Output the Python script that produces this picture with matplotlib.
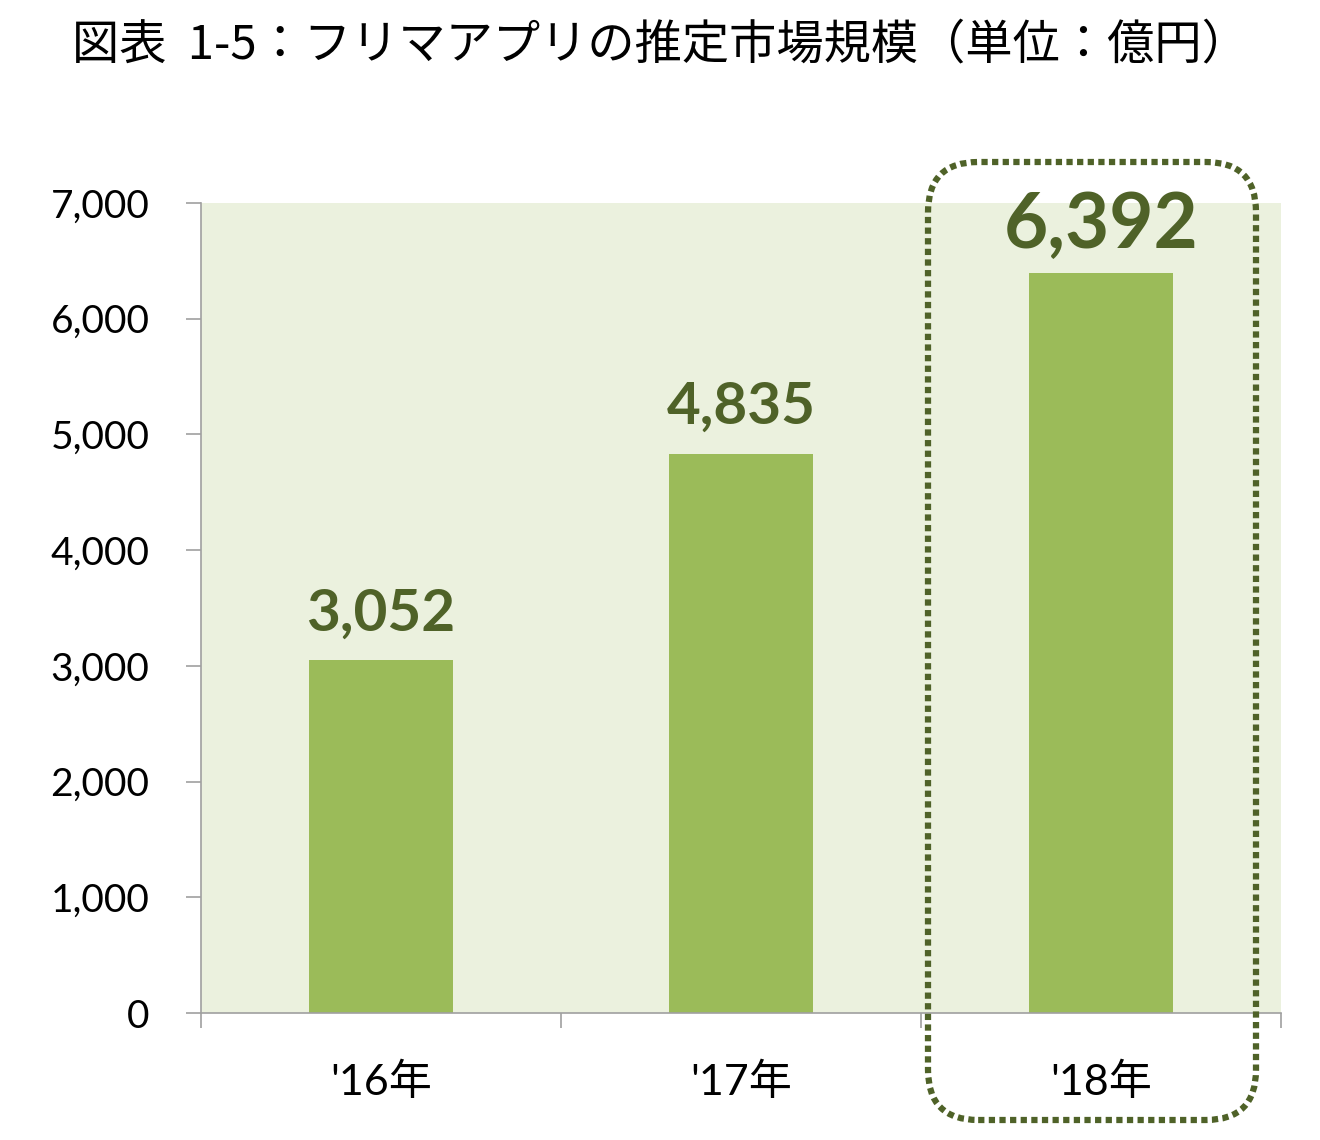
import matplotlib
matplotlib.use('Agg')
import matplotlib.pyplot as plt
from matplotlib.patches import FancyBboxPatch

plt.rcParams['font.family'] = ['Noto Sans CJK JP', 'DejaVu Sans']

# データ
years = ["'16年", "'17年", "'18年"]
values = [3052, 4835, 6392]
yticks = [0, 1000, 2000, 3000, 4000, 5000, 6000, 7000]
title = '図表  1-5：フリマアプリの推定市場規模（単位：億円）'

bar_color = '#9BBB59'
bg_color = '#EBF1DE'
dark = '#4F6228'
num_font = ['Lato', 'Noto Sans CJK JP']

fig = plt.figure(figsize=(13.2, 11.4), dpi=100)
ax = fig.add_axes([201/1320, 1-1013/1140, (1281-201)/1320, (1013-203)/1140])
ax.set_facecolor(bg_color)

x = list(range(len(years)))
ax.bar(x, values, width=0.4, color=bar_color, zorder=2)

ax.set_xlim(-0.5, 2.5)
ax.set_ylim(0, 7000)
ax.set_yticks(yticks)
ax.set_yticklabels([f'{v:,}' for v in yticks], family=num_font, fontsize=28)
ax.set_xticks(x)
ax.set_xticklabels(years, family=num_font, fontsize=31)
ax.set_xticks([-0.5, 0.5, 1.5, 2.5], minor=True)
ax.tick_params(axis='x', which='major', length=0, pad=36)
ax.tick_params(axis='x', which='minor', length=11, color='#A0A0A0', width=1.2)
ax.tick_params(axis='y', length=11, color='#A0A0A0', width=1.2, pad=26)

for s in ['top', 'right']:
    ax.spines[s].set_visible(False)
for s in ['left', 'bottom']:
    ax.spines[s].set_color('#A0A0A0')
    ax.spines[s].set_linewidth(1.2)

# 数値ラベル
sizes = [42, 42, 55]
offsets = [14, 14, 9]
for i, v in enumerate(values):
    ax.annotate(f'{v:,}', (i, v), xytext=(0, offsets[i]), textcoords='offset points',
                ha='center', va='bottom', fontsize=sizes[i], fontweight='bold',
                color=dark, family=num_font)

# 2018年を囲む点線の枠
box = FancyBboxPatch((928/1320, 1-1120/1140), (1256-928)/1320, (1120-162)/1140,
                     boxstyle='round,pad=0,rounding_size=0.038',
                     mutation_aspect=1320/1140, transform=fig.transFigure,
                     fill=False, edgecolor=dark, linewidth=4.5, linestyle=(0, (1, 0.7)),
                     clip_on=False, zorder=5)
fig.patches.append(box)

fig.text(0.5, 1-45/1140, title, ha='center', va='center', fontsize=34)

fig.savefig('out.png', dpi=100)
